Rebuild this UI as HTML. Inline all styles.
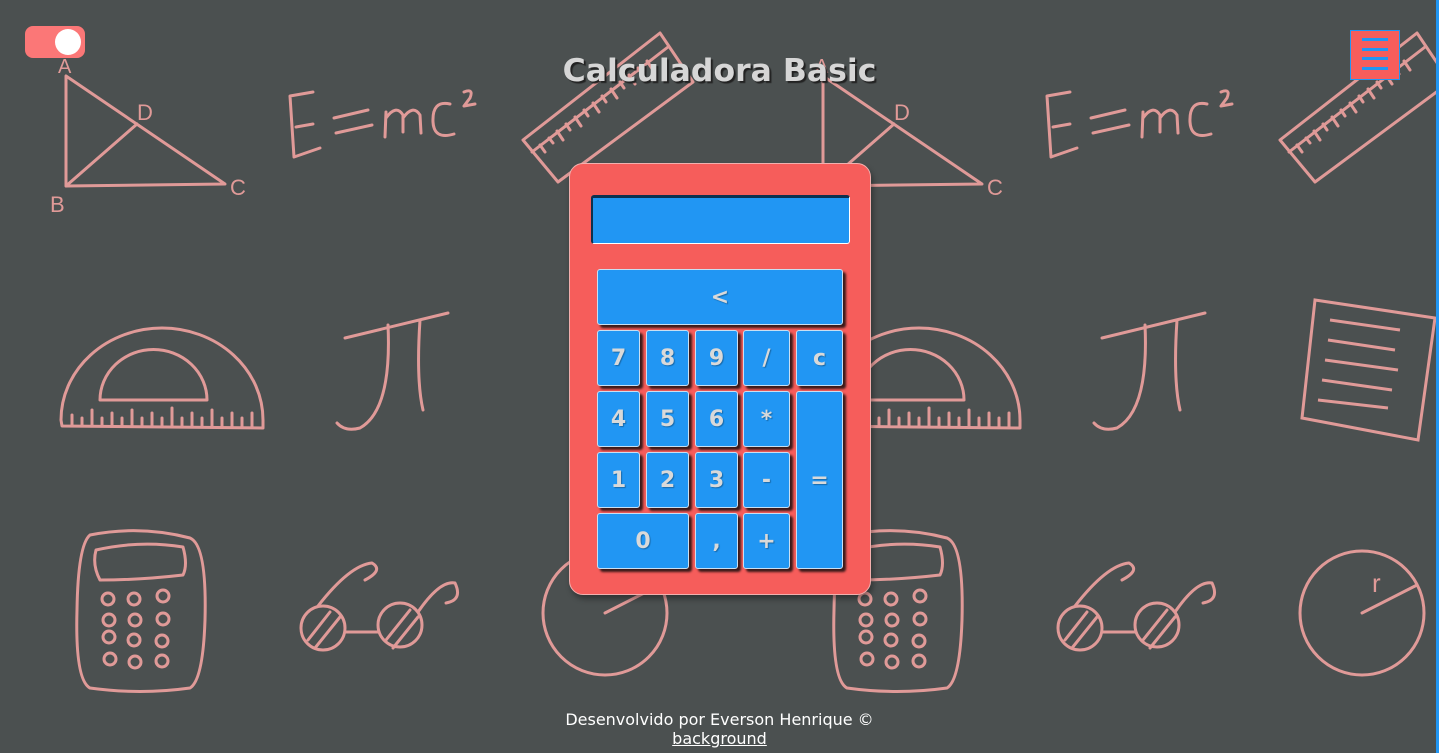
<!DOCTYPE html>
<html><head><meta charset="utf-8"><style>
html,body{margin:0;padding:0;}
body{width:1439px;height:753px;background:#4b5050;position:relative;overflow:hidden;font-family:"DejaVu Sans","Liberation Sans",sans-serif;}
svg.bg{position:absolute;left:0;top:0;}
.edge{position:absolute;right:0;top:0;width:3px;height:753px;background:#2196f3;}
.toggle{position:absolute;left:25px;top:26px;width:60px;height:32px;border-radius:8px;background:#fb7777;}
.toggle i{position:absolute;right:4px;top:3px;width:26px;height:26px;border-radius:50%;background:#fff;}
.menu{position:absolute;left:1350px;top:30px;width:50px;height:50px;background:#f65d5b;border:1px solid #2196f3;box-sizing:border-box;}
.menu b{position:absolute;left:11px;width:26px;height:3px;background:#2196f3;}
h1{position:absolute;left:0;width:1439px;top:53px;margin:0;text-align:center;font-size:31.5px;font-weight:bold;color:#d6d6d6;text-shadow:2px 2px 1px #222;}
.calc{position:absolute;left:569px;top:163px;width:302px;height:432px;box-sizing:border-box;background:#f65d5b;border:1px solid #f2b0ae;border-radius:14px;box-shadow:2px 4px 6px rgba(0,0,0,.35);}
.disp{position:absolute;left:591px;top:195px;width:259px;height:49px;box-sizing:border-box;background:#2196f3;border:1px solid #fff;border-top:3px solid #0c3150;border-left:2px solid #0c3150;border-radius:3px;}
.k{position:absolute;box-sizing:border-box;background:#2196f3;border:1px solid #c9dff2;border-radius:3px;box-shadow:3px 3px 2px #3a1a1a;color:#d9d9d9;font-weight:bold;font-size:22px;display:flex;align-items:center;justify-content:center;text-shadow:1px 1px 1px rgba(0,0,0,.3);}
.foot{position:absolute;left:0;width:1439px;top:710px;text-align:center;color:#fff;font-size:16px;line-height:19px;font-family:"DejaVu Sans",sans-serif;}
</style></head><body>
<svg class="bg" width="1439" height="753" viewBox="0 0 1439 753">
<defs>
<g id="d" fill="none" stroke="#e09a98" stroke-width="3" stroke-linecap="round" stroke-linejoin="round">
<path d="M66 76 L66 186 L225 184 Z M66 186 L137 124"/>
<text x="58" y="73" fill="#e09a98" stroke="none" font-size="20" font-family="Liberation Sans">A</text>
<text x="50" y="212" fill="#e09a98" stroke="none" font-size="22" font-family="Liberation Sans">B</text>
<text x="230" y="195" fill="#e09a98" stroke="none" font-size="22" font-family="Liberation Sans">C</text>
<text x="137" y="120" fill="#e09a98" stroke="none" font-size="22" font-family="Liberation Sans">D</text>
<path d="M313 92 L290 96 L294 157 L320 148 M296 127 L313 124 M334 118 L368 110 M336 133 L372 125 M385 137 L386 112 M386 118 Q396 104 403 115 L403 132 M403 118 Q413 104 420 115 L421 133 M450 104 Q432 100 433 122 Q434 140 454 134 M464 92 Q474 88 470 98 L464 106 L475 104"/>
<path d="M523 140 L660 33 L693 82 L558 182 Z M532 152 L668 47 M540 145 L545 152 M549 138 L553 143 M557 131 L563 140 M566 124 L570 130 M575 117 L581 126 M584 110 L588 116 M593 103 L599 112 M602 96 L606 102 M611 89 L617 98 M620 82 L624 88 M629 75 L635 84 M638 68 L642 74 M647 61 L653 70"/>
<path d="M61 420 A101 92 0 0 1 263 420 L263 428 L62 426 Z M100 400 A53 50 0 0 1 207 400 Z M72 426 L72 415 M82 426 L82 418 M92 426 L92 410 M102 426 L102 418 M112 426 L112 413 M122 426 L122 418 M132 426 L132 410 M142 426 L142 418 M152 426 L152 413 M162 426 L162 418 M172 426 L172 408 M182 426 L182 418 M192 426 L192 413 M202 426 L202 418 M212 426 L212 410 M222 426 L222 418 M232 426 L232 413 M242 426 L242 418 M252 426 L252 413"/>
<path d="M345 338 L448 313 M388 325 Q392 410 360 428 Q345 432 337 423 M420 320 Q416 380 423 410"/>
<path d="M90 535 Q140 525 190 538 Q207 545 205 620 Q203 680 190 688 Q140 695 90 688 Q75 680 77 610 Q78 545 90 535 Z M96 550 Q140 540 183 547 Q188 565 183 575 Q140 580 100 580 Q92 565 96 550 Z"/>
<g><circle cx="108" cy="599" r="6"/><circle cx="134" cy="599" r="6"/><circle cx="163" cy="596" r="6"/><circle cx="109" cy="620" r="6"/><circle cx="135" cy="620" r="6"/><circle cx="163" cy="619" r="6"/><circle cx="109" cy="637" r="6"/><circle cx="134" cy="640" r="6"/><circle cx="162" cy="641" r="6"/><circle cx="110" cy="659" r="6"/><circle cx="135" cy="662" r="6"/><circle cx="162" cy="661" r="6"/></g>
<circle cx="323" cy="628" r="22"/><circle cx="400" cy="625" r="22"/><path d="M345 632 L378 632 M318 606 Q350 565 372 563 Q384 570 365 580 M418 612 Q440 580 455 583 Q463 600 446 603 M308 640 L330 612 M315 648 L340 617 M386 640 L410 610 M393 648 L418 617"/>
<circle cx="605" cy="613" r="62"/><path d="M605 613 L660 585"/>
</g>
</defs>
<use href="#d"/>
<use href="#d" x="757"/>
<g fill="none" stroke="#e09a98" stroke-width="3"><path d="M1315 300 L1435 318 L1418 440 L1302 418 Z M1330 320 L1400 330 M1328 340 L1395 350 M1325 360 L1398 370 M1322 380 L1392 390 M1318 400 L1388 408"/></g>
<text x="1372" y="592" fill="#e09a98" font-size="26" font-family="Liberation Sans">r</text>
</svg>
<div class="edge"></div>
<div class="toggle"><i></i></div>
<div class="menu"><b style="top:7px"></b><b style="top:17px"></b><b style="top:26px"></b><b style="top:36px"></b></div>
<h1>Calculadora Basic</h1>
<div class="calc"></div>
<div class="disp"></div>
<div class="k" style="left:597px;top:269px;width:246px;height:56px">&lt;</div>
<div class="k" style="left:597px;top:330px;width:43px;height:56px">7</div>
<div class="k" style="left:646px;top:330px;width:43px;height:56px">8</div>
<div class="k" style="left:695px;top:330px;width:43px;height:56px">9</div>
<div class="k" style="left:743px;top:330px;width:47px;height:56px">/</div>
<div class="k" style="left:796px;top:330px;width:47px;height:56px">c</div>
<div class="k" style="left:597px;top:391px;width:43px;height:56px">4</div>
<div class="k" style="left:646px;top:391px;width:43px;height:56px">5</div>
<div class="k" style="left:695px;top:391px;width:43px;height:56px">6</div>
<div class="k" style="left:743px;top:391px;width:47px;height:56px">*</div>
<div class="k" style="left:796px;top:391px;width:47px;height:178px">=</div>
<div class="k" style="left:597px;top:452px;width:43px;height:56px">1</div>
<div class="k" style="left:646px;top:452px;width:43px;height:56px">2</div>
<div class="k" style="left:695px;top:452px;width:43px;height:56px">3</div>
<div class="k" style="left:743px;top:452px;width:47px;height:56px">-</div>
<div class="k" style="left:597px;top:513px;width:92px;height:56px">0</div>
<div class="k" style="left:695px;top:513px;width:43px;height:56px">,</div>
<div class="k" style="left:743px;top:513px;width:47px;height:56px">+</div>
<div class="foot">Desenvolvido por Everson Henrique ©<br><u>background</u></div>
</body></html>
